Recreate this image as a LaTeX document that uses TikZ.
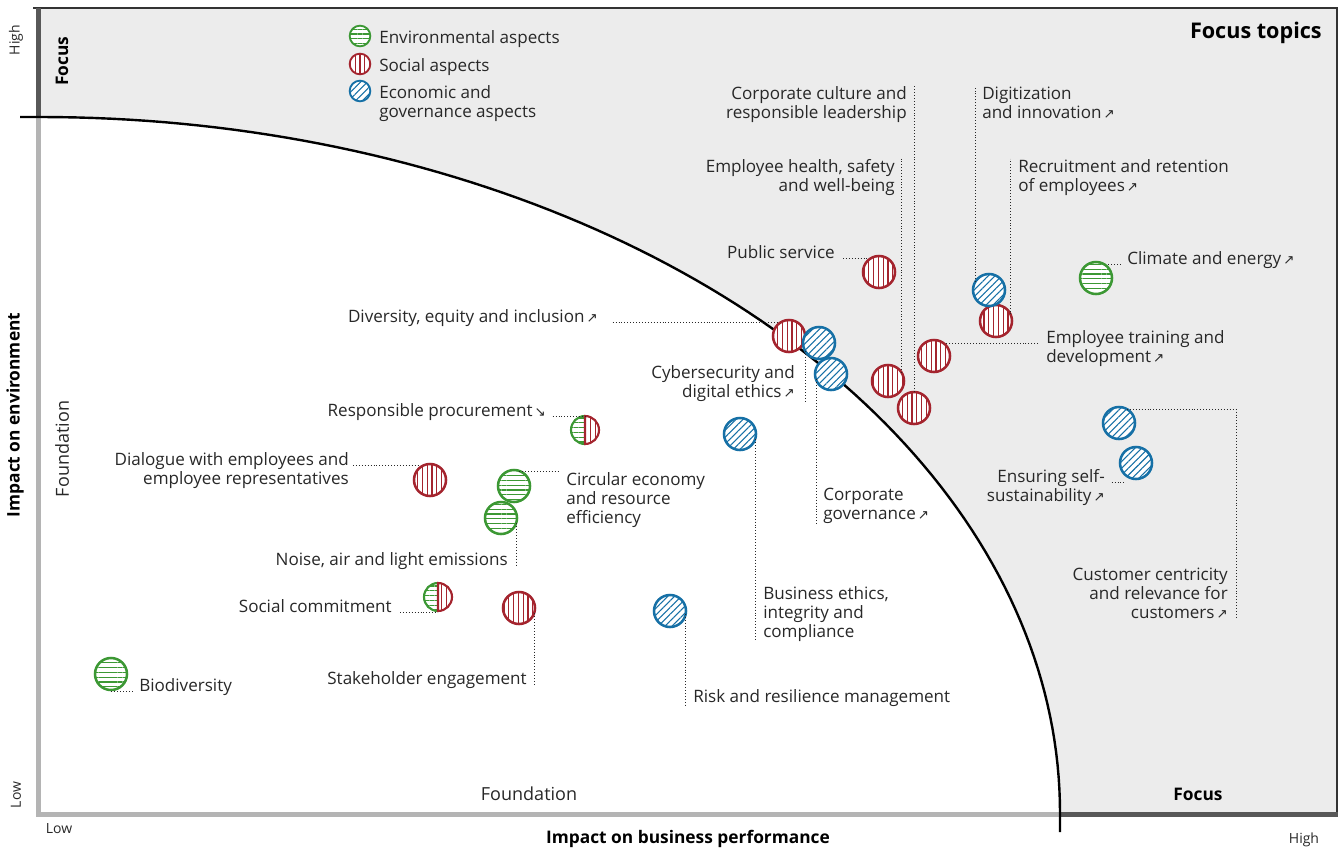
\documentclass[tikz,border=0pt]{standalone}
\usepackage{fontspec}
\setmainfont{Open Sans}
\newfontfamily\arrowfont{DejaVu Sans}
\usetikzlibrary{patterns.meta}

\definecolor{bggray}{RGB}{236,236,236}
\definecolor{txtgray}{RGB}{40,40,40}
\definecolor{envgreen}{RGB}{60,152,52}
\definecolor{socred}{RGB}{164,36,46}
\definecolor{ecoblue}{RGB}{22,112,166}
\definecolor{axisdark}{RGB}{88,88,88}
\definecolor{axislight}{RGB}{180,180,180}

\newcommand{\extup}{\kern1.5pt{\arrowfont\fontsize{10}{10}\selectfont ↗}}
\newcommand{\extdown}{\kern1.5pt{\arrowfont\fontsize{10}{10}\selectfont ↘}}

\begin{document}
\begin{tikzpicture}[x=0.75pt, y=-0.75pt,
    lbl/.style={font=\fontsize{12.8}{14.25}\selectfont, text=txtgray, inner sep=0pt},
    axislbl/.style={font=\fontsize{10.5}{12}\selectfont, text=txtgray, inner sep=0pt},
    axistitle/.style={font=\fontsize{13}{15}\selectfont\bfseries, text=black, inner sep=0pt},
    topic/.style={circle, minimum size=24pt, inner sep=0pt, outer sep=0pt, line width=1.9pt, preaction={fill=white}},
    envtopic/.style={topic, draw=envgreen, pattern={Lines[angle=0, distance=3.6pt, line width=0.8pt]}, pattern color=envgreen},
    soctopic/.style={topic, draw=socred, pattern={Lines[angle=90, distance=3.6pt, line width=0.8pt]}, pattern color=socred},
    ecotopic/.style={topic, draw=ecoblue, pattern={Lines[angle=45, distance=3.6pt, line width=0.8pt]}, pattern color=ecoblue},
    keytopic/.style={minimum size=15.5pt, line width=1.4pt},
    halftopic/.style={circle, minimum size=21pt, inner sep=0pt, outer sep=0pt},
    envhalf/.style={envgreen, line width=1.6pt, preaction={fill=white}, pattern={Lines[angle=0, distance=3.6pt, line width=0.8pt]}, pattern color=envgreen},
    sochalf/.style={socred, line width=1.6pt, preaction={fill=white}, pattern={Lines[angle=90, distance=3.6pt, line width=0.8pt]}, pattern color=socred},
    leader/.style={line width=0.6pt, dash pattern=on 0.6pt off 1.6pt, txtgray}]
    \useasboundingbox (0,0) rectangle (1338,850);

    % matrix background and the focus boundary
    \fill[bggray] (40,8) rectangle (1337,813);
    \fill[white] (40,117) -- plot[domain=90:0, samples=91] ({40+1020*cos(\x)}, {813-696*sin(\x)}) -- (40,813) -- cycle;
    \draw[line width=1.5pt, black!80] (33,7.5) -- (1337,7.5) -- (1337,813);
    \draw[line width=3.75pt, axisdark] (38.5,8) -- (38.5,117);
    \draw[line width=3.75pt, axislight] (38.5,117) -- (38.5,817);
    \draw[line width=3.75pt, axislight] (38,814.5) -- (1060,814.5);
    \draw[line width=3.75pt, axisdark] (1060,814.5) -- (1338,814.5);
    \draw[line width=1.8pt] (20,117) -- plot[domain=90:0, samples=91] ({40+1020*cos(\x)}, {813-696*sin(\x)}) -- (1060,832);

    % axes
    \node[axislbl, rotate=90] (ylow) at (16,795) {Low};
    \node[axislbl, rotate=90] (yhigh) at (16,40) {High};
    \node[axistitle, rotate=90] (ytitle) at (15,415) {Impact on environment};
    \node[lbl, font=\fontsize{13.5}{15}\selectfont, rotate=90] (yfound) at (62,449) {Foundation};
    \node[axistitle, rotate=90] (yfocus) at (62,61) {Focus};
    \node[axislbl] (xlow) at (59,829) {Low};
    \node[axislbl] (xhigh) at (1304,840) {High};
    \node[axistitle] (xtitle) at (688,839) {Impact on business performance};
    \node[lbl, font=\fontsize{13.5}{15}\selectfont] (xfound) at (529,794) {Foundation};
    \node[axistitle] (xfocus) at (1198,794) {Focus};
    \node[font=\fontsize{16.2}{19}\selectfont\bfseries, anchor=base east, inner sep=0pt] (focustopics) at (1322,38) {Focus topics};

    % legend
    \node[envtopic, keytopic] (keyenv) at (360,36) {};
    \node[soctopic, keytopic] (keysoc) at (360,64) {};
    \node[ecotopic, keytopic] (keyeco) at (360,91) {};
    \node[lbl, anchor=base west] (keyenvlbl) at (379,43) {Environmental aspects};
    \node[lbl, anchor=base west] (keysoclbl) at (379,71) {Social aspects};
    \node[lbl, anchor=base west, align=left] (keyecolbl) at (379,117) {Economic and\\governance aspects};

    % labels (multi-line ones sit on the baseline of their last line)
    \node[lbl, anchor=base east, align=right] (culturelbl) at (907,118) {Corporate culture and\\responsible leadership};
    \node[lbl, anchor=base east, align=right] (healthlbl) at (895,191) {Employee health, safety\\and well-being};
    \node[lbl, anchor=base east] (publiclbl) at (835,258) {Public service};
    \node[lbl, anchor=base west, align=left] (digitlbl) at (982,118) {Digitization\\and innovation\extup};
    \node[lbl, anchor=base west, align=left] (recruitlbl) at (1018,191) {Recruitment and retention\\of employees\extup};
    \node[lbl, anchor=base west] (climatelbl) at (1127,264) {Climate and energy\extup};
    \node[lbl, anchor=base west, align=left] (traininglbl) at (1046,362) {Employee training and\\development\extup};
    \node[lbl, anchor=base east] (diverslbl) at (598,322) {Diversity, equity and inclusion\extup};
    \node[lbl, anchor=base east, align=right] (cyberlbl) at (795,397) {Cybersecurity and\\digital ethics\extup};
    \node[lbl, anchor=base east] (procurelbl) at (546,416) {Responsible procurement\extdown};
    \node[lbl, anchor=base east, align=right] (dialoglbl) at (349,484) {Dialogue with employees and\\employee representatives};
    \node[lbl, anchor=base west, align=left] (circularlbl) at (566,523) {Circular economy\\and resource\\efficiency};
    \node[lbl, anchor=base east] (noiselbl) at (508,565) {Noise, air and light emissions};
    \node[lbl, anchor=base east] (sociallbl) at (392,612) {Social commitment};
    \node[lbl, anchor=base east] (stakelbl) at (527,684) {Stakeholder engagement};
    \node[lbl, anchor=base west] (biolbl) at (139,691) {Biodiversity};
    \node[lbl, anchor=base west, align=left] (ethicslbl) at (763,637) {Business ethics,\\integrity and\\compliance};
    \node[lbl, anchor=base west] (risklbl) at (693,702) {Risk and resilience management};
    \node[lbl, anchor=base west, align=left] (govlbl) at (823,519) {Corporate\\governance\extup};
    \node[lbl, anchor=base east, align=right] (ensurelbl) at (1105,501) {Ensuring self-\\sustainability\extup};
    \node[lbl, anchor=base east, align=right] (customerlbl) at (1228,618) {Customer centricity\\and relevance for\\customers\extup};

    % topics
    \node[envtopic] (climate) at (1096,278) {};
    \node[envtopic] (circular) at (514,486) {};
    \node[envtopic] (noise) at (501,518) {};
    \node[envtopic] (bio) at (111,674) {};
    \node[soctopic] (public) at (879,272) {};
    \node[soctopic] (divers) at (789,336) {};
    \node[soctopic] (recruit) at (996,321) {};
    \node[soctopic] (training) at (934,356) {};
    \node[soctopic] (health) at (888,381) {};
    \node[soctopic] (culture) at (914,408) {};
    \node[soctopic] (dialog) at (430,480) {};
    \node[soctopic] (stake) at (519,608) {};
    \node[ecotopic] (digit) at (989,290) {};
    \node[ecotopic] (cyber) at (819,343) {};
    \node[ecotopic] (gov) at (831,374) {};
    \node[ecotopic] (ethics) at (740,434) {};
    \node[ecotopic] (risk) at (670,611) {};
    \node[ecotopic] (customer) at (1119,423) {};
    \node[ecotopic] (ensure) at (1136,463) {};
    \node[halftopic] (procure) at (585,430) {};
    \node[halftopic] (social) at (438,597) {};
    \draw[envhalf] (procure.south) arc[start angle=270, end angle=90, radius=10.5pt];
    \draw[sochalf] (procure.north) arc[start angle=90, end angle=-90, radius=10.5pt] -- cycle;
    \draw[envhalf] (social.south) arc[start angle=270, end angle=90, radius=10.5pt];
    \draw[sochalf] (social.north) arc[start angle=90, end angle=-90, radius=10.5pt] -- cycle;

    % leaders
    \draw[leader] (culture.north) -- (culture.north |- culturelbl.north);
    \draw[leader] (health.30) -- (health.30 |- healthlbl.north);
    \draw[leader] ([xshift=6pt]publiclbl.base east) -- (publiclbl.base east -| public.north west);
    \draw[leader] (digit.150) -- (digit.150 |- digitlbl.north);
    \draw[leader] (recruit.25) -- (recruit.25 |- recruitlbl.north);
    \draw[leader] ([xshift=-5pt]climatelbl.base west) -- (climatelbl.base west -| climate.north east);
    \draw[leader] ([xshift=-6pt, yshift=14.25pt]traininglbl.base west) -- ([yshift=14.25pt]traininglbl.base west -| training.north east);
    \draw[leader] ([xshift=11pt]diverslbl.base east) -- (diverslbl.base east -| divers.north west);
    \draw[leader] (cyber.210) -- (cyber.210 |- cyberlbl.south);
    \draw[leader] (gov.200) -- (gov.200 |- govlbl.south);
    \draw[leader] (ethics.-20) -- (ethics.-20 |- ethicslbl.south);
    \draw[leader] (risk.-10) -- (risk.-10 |- risklbl.south);
    \draw[leader] (customer.60) -| ([xshift=6pt]customerlbl.south east);
    \draw[leader] ([xshift=5pt, yshift=14.25pt]ensurelbl.base east) -- ([yshift=14.25pt]ensurelbl.base east -| ensure.south west);
    \draw[leader] ([xshift=5pt]procurelbl.base east) -- (procurelbl.base east -| procure.north);
    \draw[leader] ([xshift=3pt, yshift=14.25pt]dialoglbl.base east) -- ([yshift=14.25pt]dialoglbl.base east -| dialog.north west);
    \draw[leader] (circular.70) -- ([xshift=-5pt]circularlbl.west |- circular.70);
    \draw[leader] (noise.-20) -- (noise.-20 |- noiselbl.base);
    \draw[leader] ([xshift=6pt]sociallbl.base east) -- (sociallbl.base east -| social.south);
    \draw[leader] (stake.-20) -- (stake.-20 |- stakelbl.base);
    \draw[leader] ([xshift=-5pt]biolbl.base west) -- (biolbl.base west -| bio.south);
\end{tikzpicture}
\end{document}
